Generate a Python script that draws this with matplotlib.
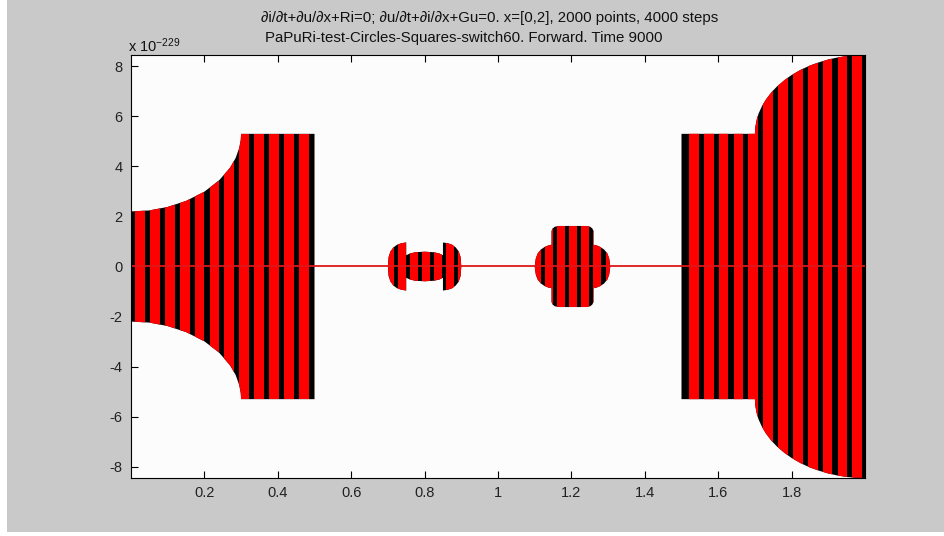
import numpy as np
import matplotlib
matplotlib.use("Agg")
import matplotlib.pyplot as plt
from matplotlib.patches import Polygon, Rectangle

plt.rcParams['font.family'] = ['Liberation Sans', 'DejaVu Sans']
plt.rcParams['mathtext.fontset'] = 'custom'
plt.rcParams['mathtext.rm'] = 'Liberation Sans'
plt.rcParams['mathtext.it'] = 'Liberation Sans'

# ---- data (amplitude in units of 1e-229) ----
# upper envelope of each block; the lower envelope is its mirror image
left_x = [0.0, 0.05, 0.10, 0.15, 0.20, 0.24, 0.27, 0.285, 0.295, 0.299, 0.30, 0.50]
left_top = [2.2, 2.24, 2.38, 2.62, 2.99, 3.44, 3.95, 4.33, 4.74, 5.05, 5.3, 5.3]

mid1_x = [0.700, 0.702, 0.707, 0.715, 0.725, 0.737, 0.750, 0.750, 0.760, 0.775, 0.800,
          0.825, 0.840, 0.850, 0.850, 0.863, 0.875, 0.885, 0.893, 0.898, 0.900]
mid1_top = [0.0, 0.38, 0.60, 0.76, 0.87, 0.93, 0.96, 0.45, 0.52, 0.57, 0.59,
            0.57, 0.52, 0.45, 0.96, 0.93, 0.87, 0.76, 0.60, 0.38, 0.0]

mid2_x = [1.100, 1.103, 1.108, 1.117, 1.127, 1.137, 1.146, 1.146, 1.149, 1.155, 1.166,
          1.240, 1.251, 1.257, 1.260, 1.260, 1.269, 1.279, 1.289, 1.298, 1.303, 1.306]
mid2_top = [0.0, 0.32, 0.52, 0.68, 0.78, 0.84, 0.87, 1.42, 1.52, 1.59, 1.62,
            1.62, 1.59, 1.52, 1.42, 0.87, 0.84, 0.78, 0.68, 0.52, 0.32, 0.0]

right_x = [1.50, 1.70, 1.701, 1.705, 1.71, 1.72, 1.73, 1.745, 1.76, 1.78, 1.80,
           1.825, 1.85, 1.875, 1.90, 1.925, 1.95, 1.975, 2.00]
right_top = [5.3, 5.3, 5.56, 5.87, 6.11, 6.43, 6.67, 6.96, 7.19, 7.44, 7.65,
             7.86, 8.03, 8.16, 8.27, 8.35, 8.41, 8.44, 8.45]

# base line of the solution, u = 0 over the whole domain
line_x = [0.0, 2.0]
line_y = [0.0, 0.0]

x_ticks = [0.2, 0.4, 0.6, 0.8, 1.0, 1.2, 1.4, 1.6, 1.8]
x_tick_labels = ['0.2', '0.4', '0.6', '0.8', '1', '1.2', '1.4', '1.6', '1.8']
y_ticks = [-8, -6, -4, -2, 0, 2, 4, 6, 8]
y_tick_labels = ['-8', '-6', '-4', '-2', '0', '2', '4', '6', '8']

title_line1 = '\u2202i/\u2202t+\u2202u/\u2202x+Ri=0; \u2202u/\u2202t+\u2202i/\u2202x+Gu=0. x=[0,2], 2000 points, 4000 steps'
title_line2 = 'PaPuRi-test-Circles-Squares-switch60. Forward. Time 9000'

# ---- stripe pattern of each block: (first red centre, period, red width, count) ----
stripe_styles = [
    (0.025, 0.0405, 0.0265, 12),
    (0.7058, 0.0327, 0.0205, 7),
    (1.1055, 0.033, 0.021, 7),
    (1.5335, 0.0405, 0.0265, 12),
]

W, H = 945, 536
fig = plt.figure(figsize=(W / 100, H / 100), dpi=100, facecolor='white')
fig.patches.append(Rectangle((7 / W, 4 / H), 1 - 7 / W, 1 - 4 / H, transform=fig.transFigure,
                             facecolor='#c9c9c9', edgecolor='none', zorder=-10))

ax = fig.add_axes([131 / W, 1 - 478 / H, (865 - 131) / W, (478 - 55) / H])
ax.set_facecolor('#fcfcfc')

blocks = [(left_x, left_top), (mid1_x, mid1_top), (mid2_x, mid2_top), (right_x, right_top)]
for (bx, btop), (c0, per, w, n) in zip(blocks, stripe_styles):
    bx = np.asarray(bx, float)
    btop = np.asarray(btop, float)
    verts = np.column_stack([np.concatenate([bx, bx[::-1]]),
                             np.concatenate([btop, -btop[::-1]])])
    shape = Polygon(verts, closed=True, facecolor='black', edgecolor='none', zorder=2)
    ax.add_patch(shape)
    centres = c0 + per * np.arange(n)
    hmax = btop.max()
    bars = ax.bar(centres, 2 * hmax, bottom=-hmax, width=w, color='#ff0000',
                  edgecolor='none', zorder=3)
    for b in bars:
        b.set_clip_path(shape)

ax.plot(line_x, line_y, color='#dd1818', lw=1.3, zorder=4)

ax.set_xlim(0, 2)
ax.set_ylim(-8.45, 8.45)
ax.set_xticks(x_ticks)
ax.set_xticklabels(x_tick_labels)
ax.set_yticks(y_ticks)
ax.set_yticklabels(y_tick_labels)
ax.tick_params(direction='in', length=5, width=0.8, top=True, right=True,
               labelsize=10.5, labelcolor='#222222', pad=6)
for sp in ax.spines.values():
    sp.set_linewidth(0.8)
    sp.set_zorder(5)

fig.text(490 / W, 1 - 18 / H, title_line1, ha='center', va='center', fontsize=10.8, color='#111111')
fig.text(464 / W, 1 - 38 / H, title_line2, ha='center', va='center', fontsize=10.8, color='#111111')
fig.text(128 / W, 1 - 46 / H, r'x 10$^{\mathregular{-229}}$', ha='left', va='center',
         fontsize=10.5, color='#111111')

fig.savefig('out.png', dpi=100, facecolor=fig.get_facecolor())
